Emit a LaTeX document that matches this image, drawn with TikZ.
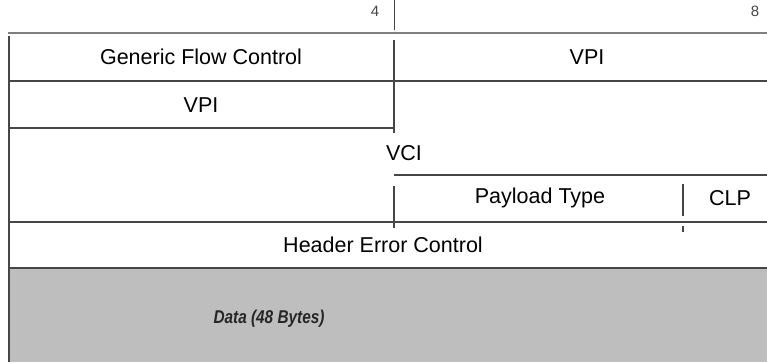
\documentclass[tikz,border=0pt]{standalone}
\usepackage{fontspec}
\usepackage{graphicx}
\setmainfont{Liberation Sans}
\definecolor{rule}{RGB}{70,70,70}
\definecolor{datagray}{RGB}{190,190,190}
\begin{document}
\begin{tikzpicture}[x=1pt,y=-1pt,
  gridline/.style={draw=rule,line width=1.2pt},
  lbl/.style={font=\fontsize{21.5}{21.5}\selectfont,inner sep=0pt},
  ticklbl/.style={font=\fontsize{15}{15}\selectfont,text=rule,inner sep=0pt}]
\useasboundingbox (0,0) rectangle (767,362);
% data area
\fill[datagray] (9,268) rectangle (767,362);
\draw[gridline] (9,268) -- (767,268);
% bit ticks
\node[ticklbl] (b4) at (375,11) {4};
\node[ticklbl] (b8) at (755,11) {8};
\draw[gridline,line width=1pt] (394,0) -- (394,30);
% grid
\draw[gridline,draw=gray] (8,33) -- (767,33);
\draw[gridline] (9,36) -- (9,362);
\draw[gridline] (9,81) -- (767,81);
\draw[gridline] (394,40) -- (394,133);
\draw[gridline] (9,128) -- (394,128);
\draw[gridline] (394,175) -- (767,175);
\draw[gridline] (394,186) -- (394,228);
\draw[gridline] (683,184) -- (683,216);
\draw[gridline] (683,226) -- (683,232);
\draw[gridline] (9,222) -- (767,222);
% labels
\node[lbl] (gfc) at (201,57) {Generic Flow Control};
\node[lbl] (vpi1) at (587,57) {VPI};
\node[lbl] (vpi2) at (201,105) {VPI};
\node[lbl] (vci) at (404,153) {VCI};
\node[lbl] (pt) at (540,198) {Payload Type};
\node[lbl] (clp) at (730,198) {CLP};
\node[lbl] (hec) at (383,245) {Header Error Control};
\node[font=\fontsize{18.5}{18.5}\selectfont\bfseries\itshape,text=black!85,inner sep=0pt] (data) at (269,319) {\scalebox{0.83}[1]{Data (48 Bytes)}};
\end{tikzpicture}
\end{document}
